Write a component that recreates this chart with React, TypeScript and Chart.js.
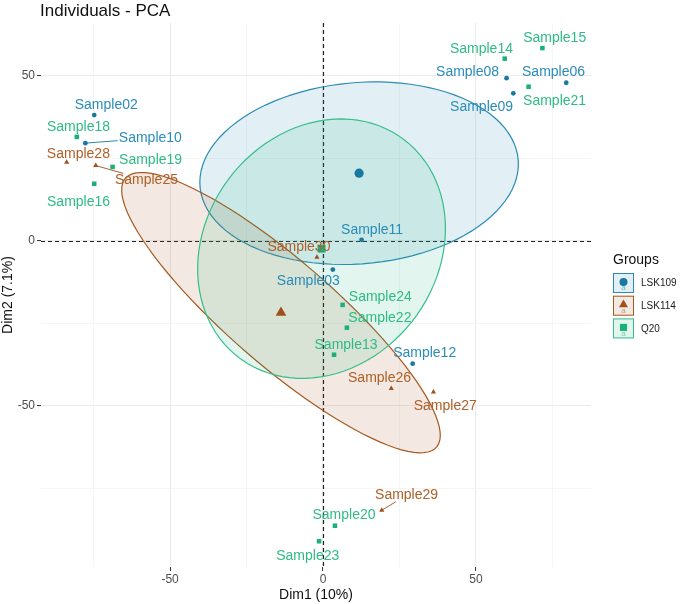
import React, { useEffect, useRef } from 'react';
import { Chart, registerables } from 'chart.js';

Chart.register(...registerables);

// ---------- data ----------
const groupNames = ['LSK109', 'LSK114', 'Q20'];

const lsk109Samples = ['Sample02', 'Sample10', 'Sample11', 'Sample03', 'Sample12', 'Sample08', 'Sample06', 'Sample09'];
const lsk109Dim1 = [-74.8, -77.7, 12.6, 3.2, 29.3, 60.0, 79.5, 62.2];
const lsk109Dim2 = [38.0, 29.5, 0.2, -8.8, -37.3, 49.2, 47.8, 44.6];

const lsk114Samples = ['Sample28', 'Sample25', 'Sample30', 'Sample26', 'Sample27', 'Sample29'];
const lsk114Dim1 = [-83.8, -74.3, -2.0, 22.3, 36.1, 19.2];
const lsk114Dim2 = [23.7, 22.7, -5.1, -44.8, -45.9, -81.7];

const q20Samples = ['Sample14', 'Sample15', 'Sample21', 'Sample18', 'Sample19', 'Sample16', 'Sample24', 'Sample22', 'Sample13', 'Sample20', 'Sample23'];
const q20Dim1 = [59.4, 71.7, 67.2, -80.5, -68.8, -74.8, 6.4, 7.8, 3.6, 3.9, -1.3];
const q20Dim2 = [55.1, 58.3, 46.6, 31.4, 22.3, 17.2, -19.5, -26.4, -34.6, -86.4, -91.1];

const xTickLabels = [-50, 0, 50];
const yTickLabels = [-50, 0, 50];
const xGridValues = [-75, -50, -25, 0, 25, 50, 75];
const yGridValues = [-75, -50, -25, 0, 25, 50];

const titleText = 'Individuals - PCA';
const xTitle = 'Dim1 (10%)';
const yTitle = 'Dim2 (7.1%)';
const legendTitle = 'Groups';
const ellipseLevel = 0.95;

// ---------- styles / layout ----------
const FONT = '"Liberation Sans", Arial, Helvetica, sans-serif';
const pointColors = ['#18789F', '#A0501A', '#1AB077'];
const textColors = ['#2A8CB8', '#AE6028', '#2EBB85'];
const edgeColors = ['#2B8BB4', '#A8581E', '#36BF8A'];
const fillColors = ['rgba(30,140,180,0.13)', 'rgba(166,86,30,0.13)', 'rgba(30,180,120,0.13)'];
const pointStyles = ['circle', 'triangle', 'rect'];
const pointRadii = [2.4, 3.0, 3.2];
const centroidRadii = [4.6, 6.2, 5.6];

// label offsets in pixels (text centre relative to point)
const labelOffsets: Record<string, [number, number]> = {
  Sample02: [12, -10], Sample10: [65, -5], Sample11: [10.5, -9.7], Sample03: [-24.5, 12],
  Sample12: [12, -10.4], Sample08: [-39, -5.7], Sample06: [-12.7, -10.4], Sample09: [-31.7, 14],
  Sample28: [11.7, -8.3], Sample25: [50.7, 14.3], Sample30: [-18, -10.6], Sample26: [-11.7, -10],
  Sample27: [11.8, 14], Sample29: [24.8, -15], Sample14: [-23.3, -9.7], Sample15: [12.3, -10.3],
  Sample21: [26, 14], Sample18: [1.7, -10], Sample19: [38, -7], Sample16: [-15.7, 18],
  Sample24: [37.7, -7.4], Sample22: [33, -9.7], Sample13: [12, -9.7], Sample20: [9, -10.7],
  Sample23: [-11.3, 14.7],
};
const segmentLabels = ['Sample10', 'Sample25', 'Sample29'];

const mean = (a: number[]) => a.reduce((s, v) => s + v, 0) / a.length;

// FactoMineR coord.ellipse(bary = TRUE) + ellipse::ellipse
function confidenceEllipse(xs: number[], ys: number[], level: number, n = 100): [number, number][] {
  const m = xs.length;
  const mx = mean(xs), my = mean(ys);
  let sxx = 0, syy = 0, sxy = 0;
  for (let i = 0; i < m; i++) {
    const dx = xs[i] - mx, dy = ys[i] - my;
    sxx += dx * dx; syy += dy * dy; sxy += dx * dy;
  }
  sxx /= (m - 1) * m; syy /= (m - 1) * m; sxy /= (m - 1) * m;
  const sx = Math.sqrt(sxx), sy = Math.sqrt(syy);
  const r = sxy / (sx * sy);
  const t = Math.sqrt(-2 * Math.log(1 - level));
  const a = Math.acos(r);
  const out: [number, number][] = [];
  for (let k = 0; k < n; k++) {
    const d = (2 * Math.PI * k) / (n - 1);
    out.push([t * sx * Math.cos(d + a / 2) + mx, t * sy * Math.cos(d - a / 2) + my]);
  }
  return out;
}

const groupData = [
  { samples: lsk109Samples, xs: lsk109Dim1, ys: lsk109Dim2 },
  { samples: lsk114Samples, xs: lsk114Dim1, ys: lsk114Dim2 },
  { samples: q20Samples, xs: q20Dim1, ys: q20Dim2 },
];

function drawSymbol(ctx: CanvasRenderingContext2D, style: string, x: number, y: number, r: number, color: string) {
  ctx.fillStyle = color;
  ctx.beginPath();
  if (style === 'circle') {
    ctx.arc(x, y, r, 0, Math.PI * 2);
  } else if (style === 'triangle') {
    ctx.moveTo(x, y - r);
    ctx.lineTo(x + r * Math.sin((2 * Math.PI) / 3), y - r * Math.cos((2 * Math.PI) / 3));
    ctx.lineTo(x + r * Math.sin((4 * Math.PI) / 3), y - r * Math.cos((4 * Math.PI) / 3));
    ctx.closePath();
  } else {
    const s = r * Math.SQRT1_2;
    ctx.rect(x - s, y - s, 2 * s, 2 * s);
  }
  ctx.fill();
}

const ellipsePlugin = {
  id: 'pcaEllipses',
  beforeDatasetsDraw(chart: any) {
    const { ctx, chartArea, scales } = chart;
    const xs = scales.x, ys = scales.y;
    ctx.save();
    ctx.beginPath();
    ctx.rect(chartArea.left, chartArea.top, chartArea.right - chartArea.left, chartArea.bottom - chartArea.top);
    ctx.clip();
    // dashed reference lines
    ctx.setLineDash([4, 3]);
    ctx.strokeStyle = '#222';
    ctx.lineWidth = 1.2;
    const x0 = Math.round(xs.getPixelForValue(0)) + 0.5;
    const y0 = Math.round(ys.getPixelForValue(0)) + 0.5;
    ctx.beginPath(); ctx.moveTo(x0, chartArea.top); ctx.lineTo(x0, chartArea.bottom); ctx.stroke();
    ctx.beginPath(); ctx.moveTo(chartArea.left, y0); ctx.lineTo(chartArea.right, y0); ctx.stroke();
    ctx.setLineDash([]);
    groupData.forEach((g, gi) => {
      const pts = confidenceEllipse(g.xs, g.ys, ellipseLevel);
      ctx.beginPath();
      pts.forEach(([vx, vy], i) => {
        const px = xs.getPixelForValue(vx), py = ys.getPixelForValue(vy);
        if (i === 0) ctx.moveTo(px, py); else ctx.lineTo(px, py);
      });
      ctx.closePath();
      ctx.fillStyle = fillColors[gi];
      ctx.fill();
      ctx.strokeStyle = edgeColors[gi];
      ctx.lineWidth = 1.2;
      ctx.stroke();
    });
    ctx.restore();
  },
};

const labelPlugin = {
  id: 'pcaLabels',
  afterDatasetsDraw(chart: any) {
    const { ctx, scales } = chart;
    const xs = scales.x, ys = scales.y;
    ctx.save();
    ctx.font = `14px ${FONT}`;
    ctx.textAlign = 'center';
    ctx.textBaseline = 'middle';
    groupData.forEach((g, gi) => {
      g.samples.forEach((name, i) => {
        const px = xs.getPixelForValue(g.xs[i]);
        const py = ys.getPixelForValue(g.ys[i]);
        const [dx, dy] = labelOffsets[name] || [0, -10];
        const cx = px + dx, cy = py + dy;
        if (segmentLabels.includes(name)) {
          const w = ctx.measureText(name).width + 2;
          const h = 13;
          const vx = cx - px, vy = cy - py;
          const tx = vx !== 0 ? (w / 2) / Math.abs(vx) : Infinity;
          const ty = vy !== 0 ? (h / 2) / Math.abs(vy) : Infinity;
          const f = Math.min(tx, ty);
          ctx.strokeStyle = pointColors[gi];
          ctx.lineWidth = 0.9;
          ctx.beginPath();
          ctx.moveTo(px, py);
          ctx.lineTo(cx - vx * f, cy - vy * f);
          ctx.stroke();
        }
        ctx.fillStyle = textColors[gi];
        ctx.fillText(name, cx, cy);
      });
    });
    ctx.restore();
  },
  afterDraw(chart: any) {
    const { ctx } = chart;
    ctx.save();
    // title
    ctx.font = `17px ${FONT}`;
    ctx.fillStyle = '#111';
    ctx.textAlign = 'left';
    ctx.textBaseline = 'alphabetic';
    ctx.fillText(titleText, 40, 15.5);
    // legend
    ctx.font = `14px ${FONT}`;
    ctx.textBaseline = 'middle';
    ctx.fillText(legendTitle, 613, 260);
    groupNames.forEach((name, gi) => {
      const top = 273 + gi * 22.7;
      ctx.fillStyle = '#fff';
      ctx.fillRect(613, top, 21, 20);
      ctx.fillStyle = fillColors[gi];
      ctx.fillRect(613, top, 21, 20);
      ctx.strokeStyle = edgeColors[gi];
      ctx.lineWidth = 1;
      ctx.strokeRect(613.5, top + 0.5, 20, 19);
      const sr = gi === 0 ? 4 : gi === 1 ? 5.2 : 5;
      drawSymbol(ctx, pointStyles[gi], 623.5, top + 9, sr, pointColors[gi]);
      ctx.font = `8px ${FONT}`;
      ctx.fillStyle = textColors[gi];
      ctx.globalAlpha = 0.6;
      ctx.textAlign = 'center';
      ctx.fillText('a', 623.5, top + 15);
      ctx.globalAlpha = 1;
      ctx.textAlign = 'left';
      ctx.font = `10px ${FONT}`;
      ctx.fillStyle = '#1a1a1a';
      ctx.fillText(name, 641, top + 10.5);
    });
    ctx.restore();
  },
};

export default function App() {
  const ref = useRef<HTMLCanvasElement>(null);
  useEffect(() => {
    const canvas = ref.current;
    if (!canvas) return;
    const datasets: any[] = [];
    groupData.forEach((g, gi) => {
      datasets.push({
        label: groupNames[gi],
        data: g.xs.map((x, i) => ({ x, y: g.ys[i] })),
        pointStyle: pointStyles[gi],
        pointRadius: pointRadii[gi],
        pointHoverRadius: pointRadii[gi],
        pointBorderWidth: 0,
        backgroundColor: pointColors[gi],
        borderColor: pointColors[gi],
      });
    });
    groupData.forEach((g, gi) => {
      datasets.push({
        label: groupNames[gi] + ' centre',
        data: [{ x: mean(g.xs), y: mean(g.ys) }],
        pointStyle: pointStyles[gi],
        pointRadius: centroidRadii[gi],
        pointHoverRadius: centroidRadii[gi],
        pointBorderWidth: 0,
        backgroundColor: pointColors[gi],
        borderColor: pointColors[gi],
      });
    });

    const major = (v: number, arr: number[]) => arr.includes(v);

    const chart = new Chart(canvas, {
      type: 'scatter',
      data: { datasets },
      plugins: [ellipsePlugin, labelPlugin],
      options: {
        animation: false,
        responsive: false,
        devicePixelRatio: 1,
        events: [],
        layout: { padding: { left: 0, top: 23, right: 94, bottom: 0 } },
        plugins: { legend: { display: false }, tooltip: { enabled: false }, title: { display: false } },
        scales: {
          x: {
            type: 'linear',
            min: -92.2,
            max: 87.6,
            afterBuildTicks: (scale: any) => { scale.ticks = xGridValues.map((v) => ({ value: v })); },
            afterFit: (scale: any) => { scale.height = 37; },
            ticks: {
              autoSkip: false,
              maxRotation: 0,
              padding: 1,
              color: '#4D4D4D',
              font: { size: 12, family: FONT },
              callback: (v: any) => (major(Number(v), xTickLabels) ? String(v) : ''),
            },
            grid: {
              color: (c: any) => (c.tick && major(c.tick.value, xTickLabels) ? '#EBEBEB' : '#F3F3F3'),
              lineWidth: (c: any) => (c.tick && major(c.tick.value, xTickLabels) ? 1.1 : 0.8),
              tickColor: (c: any) => (c.tick && major(c.tick.value, xTickLabels) ? '#333' : 'rgba(0,0,0,0)'),
              tickLength: 4,
              tickWidth: 1,
            },
            border: { display: false },
            title: { display: true, text: xTitle, color: '#111', font: { size: 14, family: FONT }, padding: 0 },
          },
          y: {
            type: 'linear',
            min: -98.9,
            max: 65.9,
            afterBuildTicks: (scale: any) => { scale.ticks = yGridValues.map((v) => ({ value: v })); },
            afterFit: (scale: any) => { scale.width = 41; },
            ticks: {
              autoSkip: false,
              padding: 2,
              color: '#4D4D4D',
              font: { size: 12, family: FONT },
              callback: (v: any) => (major(Number(v), yTickLabels) ? String(v) : ''),
            },
            grid: {
              color: (c: any) => (c.tick && major(c.tick.value, yTickLabels) ? '#EBEBEB' : '#F3F3F3'),
              lineWidth: (c: any) => (c.tick && major(c.tick.value, yTickLabels) ? 1.1 : 0.8),
              tickColor: (c: any) => (c.tick && major(c.tick.value, yTickLabels) ? '#333' : 'rgba(0,0,0,0)'),
              tickLength: 4,
              tickWidth: 1,
            },
            border: { display: false },
            title: { display: true, text: yTitle, color: '#111', font: { size: 14, family: FONT }, padding: 0 },
          },
        },
      } as any,
    });
    return () => chart.destroy();
  }, []);

  return (
    <div style={{ position: 'absolute', left: 0, top: 0, width: 685, height: 604, background: '#fff' }}>
      <canvas ref={ref} width={685} height={604} style={{ display: 'block', width: 685, height: 604 }} />
    </div>
  );
}
